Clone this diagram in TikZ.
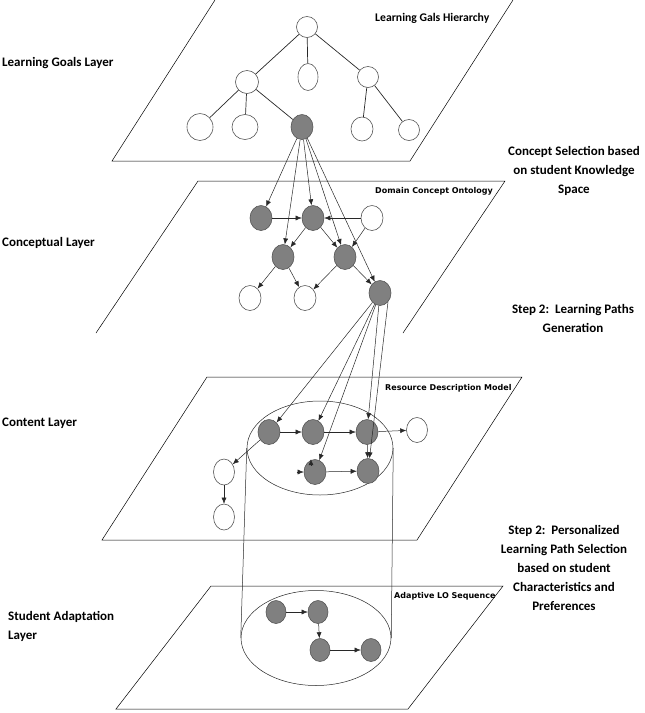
\documentclass[tikz,border=0pt]{standalone}
\usepackage{fontspec}
\setmainfont{Carlito}
\newfontfamily\smallfont{DejaVu Sans}
\usetikzlibrary{shapes.geometric,arrows.meta}
\definecolor{nodegray}{RGB}{128,128,128}
\definecolor{nodeborder}{RGB}{85,85,85}
\definecolor{linegray}{RGB}{40,40,40}
\tikzset{
  gnode/.style={ellipse,draw=nodeborder,fill=nodegray,line width=0.6pt,inner sep=0pt,minimum width=22pt,minimum height=25pt},
  wnode/.style={ellipse,draw=nodeborder,fill=white,line width=0.6pt,inner sep=0pt,minimum width=22pt,minimum height=25pt},
  tedge/.style={draw=linegray,line width=0.7pt},
  arr/.style={draw=linegray,line width=0.5pt,-{Latex[length=6pt,width=5pt]}},
  layer/.style={draw=black,line width=0.5pt},
  biglabel/.style={font=\bfseries\fontsize{13}{19}\selectfont,inner sep=0pt},
  sidelabel/.style={font=\bfseries\fontsize{13}{19}\selectfont,inner sep=0pt,align=center},
  boxlabel/.style={font=\smallfont\bfseries\fontsize{8}{9}\selectfont,inner sep=0pt,anchor=west},
  hlabel/.style={font=\bfseries\fontsize{11.7}{13}\selectfont,inner sep=0pt,anchor=west},
  bigell/.style={ellipse,draw=linegray,line width=0.5pt,inner sep=0pt}
}
\begin{document}
\begin{tikzpicture}[x=1pt,y=-1pt]
\useasboundingbox (0,0) rectangle (645,713);
\clip (0,0) rectangle (645,713);
% layers
\draw[layer] (215,0) -- (112,161) -- (410,161) -- (513,0);
\draw[layer] (96,333) -- (198,181) -- (505,181) -- (403,333);
\draw[layer] (102,540) -- (207,377) -- (522,377) -- (417,540) -- cycle;
\draw[layer] (116,709) -- (211,586) -- (503,586) -- (408,709) -- cycle;
% labels
\node[biglabel,anchor=west] (l1) at (2,63) {Learning Goals Layer};
\node[biglabel,anchor=west] (l2) at (2,243) {Conceptual Layer};
\node[biglabel,anchor=west] (l3) at (2,423) {Content Layer};
\node[biglabel,anchor=north west,align=left] (l4) at (8,611) {Student Adaptation\\Layer};
\node[hlabel] (h1) at (375,18) {Learning Gals Hierarchy};
\node[boxlabel] (h2) at (375,191) {Domain Concept Ontology};
\node[boxlabel] (h3) at (385,388) {Resource Description Model};
\node[boxlabel] (h4) at (394,596) {Adaptive LO Sequence};
\node[sidelabel,anchor=north] (s1) at (574,146) {Concept Selection based\\on student Knowledge\\Space};
\node[sidelabel,anchor=north] (s2) at (573,304) {Step 2:\ \ Learning Paths\\Generation};
\node[sidelabel,anchor=north] (s3) at (564,525) {Step 2:\ \ Personalized\\Learning Path Selection\\based on student\\Characteristics and\\Preferences};
% big ellipses
\node[bigell,minimum width=146pt,minimum height=94pt] (E1) at (320,448) {};
\node[bigell,minimum width=150pt,minimum height=95pt] (E2) at (316,638) {};
\draw[draw=linegray,line width=0.5pt] (E1.west) -- (E2.west);
\draw[draw=linegray,line width=0.5pt] (E1.east) -- (E2.east);
% goals tree
\node[wnode,minimum width=21pt,minimum height=21pt] (r) at (307,27) {};
\node[wnode,minimum width=23pt,minimum height=23pt] (m1) at (247,82) {};
\node[wnode,minimum width=20pt,minimum height=27pt] (m2) at (308,77) {};
\node[wnode,minimum width=21pt,minimum height=21pt] (m3) at (368,77) {};
\node[wnode,minimum width=26pt,minimum height=27pt] (b1) at (200,127) {};
\node[wnode,minimum width=26pt,minimum height=25pt] (b2) at (245,127) {};
\node[gnode,minimum width=22pt,minimum height=25pt] (g) at (302,127) {};
\node[wnode,minimum width=22pt,minimum height=24pt] (b4) at (362,129) {};
\node[wnode,minimum width=21pt,minimum height=21pt] (b5) at (409,130) {};
\draw[tedge] (r) -- (m1);
\draw[tedge] (r) -- (m2);
\draw[tedge] (r) -- (m3);
\draw[tedge] (m1) -- (b1);
\draw[tedge] (m1) -- (b2);
\draw[tedge] (m1) -- (g);
\draw[tedge] (m3) -- (b4);
\draw[tedge] (m3) -- (b5);
% conceptual
\node[gnode] (A) at (261,218) {};
\node[gnode] (B) at (313,218) {};
\node[wnode] (C) at (372,218) {};
\node[gnode] (D) at (283,257) {};
\node[gnode] (E) at (345,257) {};
\node[wnode] (F) at (250,298) {};
\node[wnode] (G) at (305,298) {};
\node[gnode] (H) at (380,293) {};
\draw[arr] (A) -- (B);
\draw[arr] (C) -- (B);
\draw[arr] (B) -- (D);
\draw[arr] (B) -- (E);
\draw[arr] (C) -- (E);
\draw[arr] (D) -- (F);
\draw[arr] (D) -- (G);
\draw[arr] (E) -- (G);
\draw[arr] (E) -- (H);
\draw[arr] (g) -- (A);
\draw[arr] (g) -- (D);
\draw[arr] (g) -- (B);
\draw[arr] (g) -- (E);
\draw[arr] (g) -- (H);
% content
\node[gnode] (n1) at (269,432) {};
\node[gnode] (n2) at (313,432) {};
\node[gnode] (n3) at (367,432) {};
\node[wnode,minimum width=21pt] (n4) at (417,430) {};
\node[gnode] (n5) at (315,472) {};
\node[gnode] (n6) at (368,471) {};
\node[wnode,minimum width=21pt,minimum height=26pt] (w1) at (224,472) {};
\node[wnode,minimum width=21pt,minimum height=26pt] (w2) at (224,517) {};
\draw[arr] (n1) -- (n2);
\draw[arr] (n2) -- (n3);
\draw[arr] (n3) -- (n4);
\draw[arr] (n3) -- (n6);
\draw[arr] (n5) -- (n6);
\draw[arr] (n1) -- (w1);
\draw[arr] (w1) -- (w2);
\draw[arr] (H) -- (n1);
\draw[arr] (H) -- (n2);
\draw[arr] (H) -- (n5);
\draw[arr] (H) -- (n3);
\draw[arr] (H.south east) -- (n6);
\coordinate (t1) at ([xshift=-4pt,yshift=-6pt]n5.north);
\coordinate (t2) at ([xshift=-7pt]n5.west);
\draw[arr] (t1) -- ([xshift=-4pt]n5.north);
\draw[arr] (t2) -- (n5.west);
% adaptation
\node[gnode,minimum width=20pt,minimum height=23pt] (a1) at (276,612) {};
\node[gnode,minimum width=20pt,minimum height=23pt] (a2) at (318,612) {};
\node[gnode,minimum width=20pt,minimum height=23pt] (a3) at (320,650) {};
\node[gnode,minimum width=20pt,minimum height=23pt] (a4) at (371,650) {};
\draw[arr] (a1) -- (a2);
\draw[arr] (a2) -- (a3);
\draw[arr] (a3) -- (a4);
\end{tikzpicture}
\end{document}
